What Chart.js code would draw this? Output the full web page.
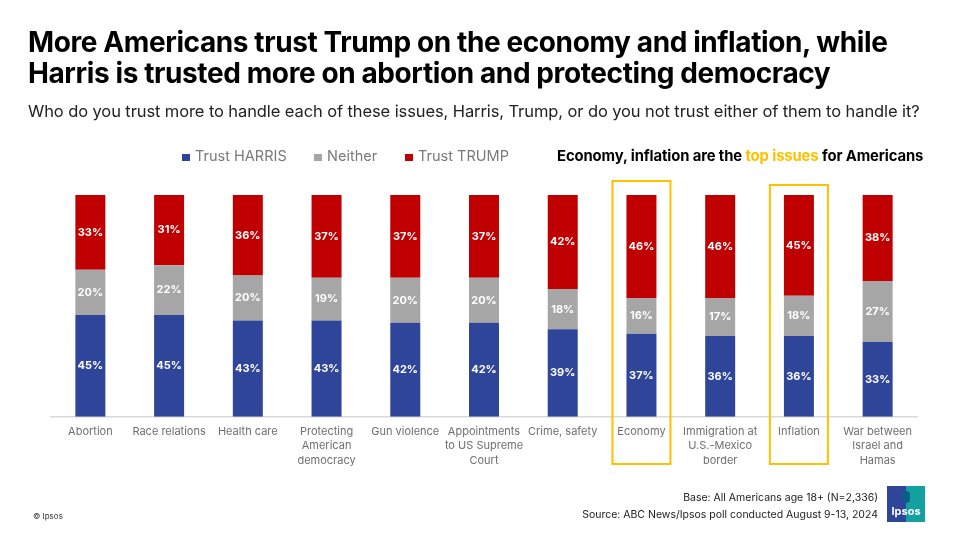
<!DOCTYPE html>
<html>
<head>
<meta charset="utf-8">
<script src="https://cdn.jsdelivr.net/npm/chart.js@4.4.1/dist/chart.umd.min.js"></script>
<style>
  html, body { margin:0; padding:0; background:#fff; width:960px; height:540px; overflow:hidden; font-family: Inter, Roboto, sans-serif; }
  #wrap { position:relative; width:960px; height:540px; }
  #c { position:absolute; left:0; top:0; }
  .t { position:absolute; white-space:nowrap; }
  #title { left:28px; top:27px; font-size:28px; font-weight:700; line-height:30.5px; color:#000; letter-spacing:-0.4px; }
  #sub { left:28px; top:101px; font-size:16.5px; color:#222; letter-spacing:-0.1px; }
  .lg { position:absolute; top:147px; font-size:14.5px; color:#7a7a7a; white-space:nowrap; }
  .sw { position:absolute; top:154px; width:8px; height:7px; }
  #note { left:557px; top:147px; font-size:14.8px; font-weight:700; color:#000; letter-spacing:-0.1px; }
  #note b { color:#FFC000; font-weight:700; }
  #copy { left:33px; top:511px; font-size:8px; color:#333; }
  #base { right:82px; top:491px; font-size:10.5px; color:#222; text-align:right; }
  #src { right:82px; top:508px; font-size:10.5px; color:#222; text-align:right; }
  #logo { position:absolute; left:887px; top:486px; width:38px; height:36px; background:#2E4599; overflow:hidden; }
  #logo em { position:absolute; left:19px; top:0; width:19px; height:36px; background:#13A1A0; }
  #logo span { position:absolute; left:0; right:0; bottom:4px; text-align:center; color:#fff; font-weight:700; font-size:11px; }
  #logo i { position:absolute; left:15px; top:5px; width:8px; height:12px; border-radius:4px; background:#0B5E8A; }
</style>
</head>
<body>
<div id="wrap">
  <canvas id="c" width="960" height="540"></canvas>
  <div class="t" id="title">More Americans trust Trump on the economy and inflation, while<br>Harris is trusted more on abortion and protecting democracy</div>
  <div class="t" id="sub">Who do you trust more to handle each of these issues, Harris, Trump, or do you not trust either of them to handle it?</div>
  <div class="sw" style="left:182px;background:#2E4599"></div><div class="lg" style="left:195px">Trust HARRIS</div>
  <div class="sw" style="left:314px;background:#A6A6A6"></div><div class="lg" style="left:327px">Neither</div>
  <div class="sw" style="left:405px;background:#C00000"></div><div class="lg" style="left:418px">Trust TRUMP</div>
  <div class="t" id="note">Economy, inflation are the <b>top issues</b> for Americans</div>
  <div class="t" id="copy">© Ipsos</div>
  <div class="t" id="base">Base: All Americans age 18+ (N=2,336)</div>
  <div class="t" id="src">Source: ABC News/Ipsos poll conducted August 9-13, 2024</div>
  <div id="logo"><em></em><i></i><span>Ipsos</span></div>
</div>
<script>
const categories = [
  "Abortion",
  "Race relations",
  "Health care",
  ["Protecting", "American", "democracy"],
  "Gun violence",
  ["Appointments", "to US Supreme", "Court"],
  "Crime, safety",
  "Economy",
  ["Immigration at", "U.S.-Mexico", "border"],
  "Inflation",
  ["War between", "Israel and", "Hamas"]
];
const trustHarris = [45, 45, 43, 43, 42, 42, 39, 37, 36, 36, 33];
const neither     = [20, 22, 20, 19, 20, 20, 18, 16, 17, 18, 27];
const trustTrump  = [33, 31, 36, 37, 37, 37, 42, 46, 46, 45, 38];
const highlighted = [7, 9];

// 100% stacked: each bar scaled to its own total
const totals = categories.map((_, i) => trustHarris[i] + neither[i] + trustTrump[i]);
const share = arr => arr.map((v, i) => v / totals[i] * 100);

const labelPlugin = {
  id: 'segLabels',
  afterDatasetsDraw(chart) {
    const ctx = chart.ctx;
    ctx.save();
    ctx.fillStyle = '#fff';
    ctx.font = '700 11px Inter, Roboto, sans-serif';
    ctx.textAlign = 'center';
    ctx.textBaseline = 'middle';
    chart.data.datasets.forEach((ds, di) => {
      const meta = chart.getDatasetMeta(di);
      meta.data.forEach((bar, i) => {
        const yMid = (bar.y + bar.base) / 2;
        ctx.fillText(ds.raw[i] + '%', bar.x, yMid);
      });
    });
    ctx.restore();
  }
};

const boxPlugin = {
  id: 'highlightBoxes',
  afterDraw(chart) {
    const ctx = chart.ctx;
    const xs = chart.scales.x;
    const area = chart.chartArea;
    ctx.save();
    ctx.strokeStyle = '#FFC000';
    ctx.lineWidth = 2;
    highlighted.forEach((idx, k) => {
      const cx = xs.getPixelForValue(idx);
      const top = area.top - (k === 0 ? 14 : 10);
      ctx.strokeRect(cx - 29, top, 58, 464 - top);
    });
    ctx.restore();
  }
};

new Chart(document.getElementById('c'), {
  type: 'bar',
  data: {
    labels: categories,
    datasets: [
      { label: 'Trust HARRIS', data: share(trustHarris), raw: trustHarris, backgroundColor: '#2E4599' },
      { label: 'Neither', data: share(neither), raw: neither, backgroundColor: '#A6A6A6' },
      { label: 'Trust TRUMP', data: share(trustTrump), raw: trustTrump, backgroundColor: '#C00000' }
    ]
  },
  options: {
    responsive: false,
    animation: false,
    devicePixelRatio: 1,
    barPercentage: 0.381,
    categoryPercentage: 1,
    layout: { padding: { left: 51, right: 43, top: 195, bottom: 0 } },
    plugins: { legend: { display: false }, tooltip: { enabled: false } },
    scales: {
      x: {
        stacked: true,
        grid: { display: false, drawTicks: false },
        border: { display: true, color: '#D9D9D9', width: 1.5 },
        ticks: { color: '#6f6f6f', font: { family: 'Inter, Roboto, sans-serif', size: 11, lineHeight: 1.3 }, padding: 8, maxRotation: 0, autoSkip: false },
        afterFit(scale) { scale.height = 123.3; }
      },
      y: { stacked: true, display: false, min: 0, max: 100 }
    }
  },
  plugins: [labelPlugin, boxPlugin]
});
</script>
</body>
</html>
